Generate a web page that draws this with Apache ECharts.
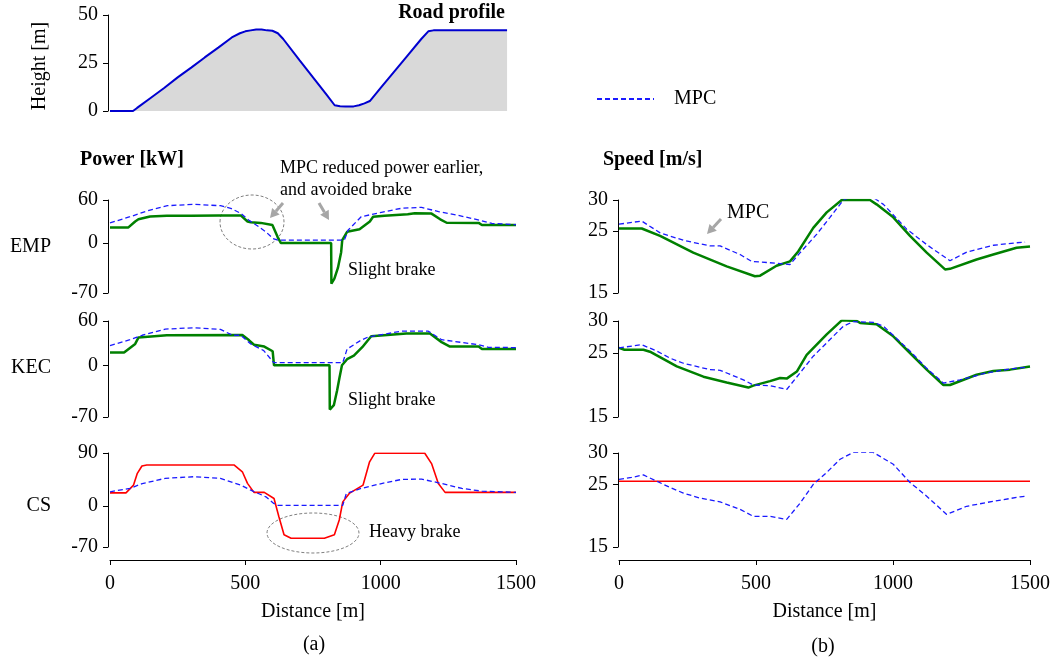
<!DOCTYPE html>
<html>
<head>
<meta charset="utf-8">
<script src="https://cdn.jsdelivr.net/npm/echarts@6/dist/echarts.min.js"></script>
<style>
html, body { margin: 0; padding: 0; background: #fff; }
#main { width: 1057px; height: 662px; }
</style>
</head>
<body>
<div id="main"></div>
<script>
// road profile
var roadDist   = [0, 85, 100, 150, 200, 250, 300, 350, 400, 450, 480, 500, 520, 540, 560, 580, 600, 620, 640, 700, 750, 800, 830, 850, 870, 900, 920, 940, 960, 1000, 1050, 1100, 1150, 1176, 1195, 1300, 1400, 1467];
var roadHeight = [0, 0, 1.6, 6.8, 12, 17.5, 22.6, 27.9, 33, 38.3, 40.5, 41.5, 42, 42.5, 42.5, 42, 41.8, 40.5, 37.5, 26.5, 17.5, 8.5, 3, 2.5, 2.4, 2.4, 3, 4, 5.2, 12, 20.5, 29, 37.5, 41.5, 42, 42, 42, 42];

// power [kW] - EMP row
var pEmpX    = [0, 68, 93, 105, 148, 210, 300, 400, 483, 508, 520, 557, 600, 606, 619, 631, 817, 818, 829, 842, 854, 858, 876, 922, 960, 972, 1014, 1100, 1126, 1188, 1220, 1244, 1362, 1374, 1500];
var pEmpY    = [21.7, 21.7, 30, 33, 37, 38, 38, 38.5, 38.5, 30, 29, 28, 25, 22.5, 8.5, 0, 0, -57, -50, -35, -13, 4, 15.5, 19, 30, 36.5, 38, 40, 41.4, 41, 33, 28.2, 28, 25, 25];
var pEmpMpcX = [0, 74, 148, 212, 308, 408, 446, 483, 512, 550, 576, 602, 620, 866, 880, 928, 1003, 1077, 1151, 1214, 1281, 1374, 1411, 1500];
var pEmpMpcY = [28, 36.6, 46, 52, 54, 52, 48.4, 41.4, 32, 22.5, 15.5, 6.2, 4, 4, 18, 36.6, 42.8, 48.4, 49.8, 43.7, 39, 31, 27.3, 25.5];

// power [kW] - KEC row
var pKecX    = [0, 52, 93, 105, 210, 489, 514, 532, 570, 601, 606, 811, 812, 827, 839, 848, 857, 876, 901, 932, 965, 1095, 1182, 1225, 1256, 1362, 1374, 1500];
var pKecY    = [17.5, 17.5, 29, 37.5, 40.7, 41, 33.8, 27.8, 25.4, 19, 0, 0, -60, -54, -34, -16.5, 0, 8.3, 13, 24.5, 39.3, 43, 43, 31.4, 25.4, 25.4, 22.2, 22.2];
var pKecMpcX = [0, 74, 119, 204, 308, 408, 453, 483, 520, 568, 605, 860, 876, 922, 953, 1077, 1176, 1225, 1362, 1398, 1500];
var pKecMpcY = [26.8, 34.7, 40.7, 49, 50.8, 48.6, 40.7, 40.7, 29, 19.9, 3.6, 3.6, 22, 32.8, 38.3, 46.2, 46.2, 34.7, 27.8, 24.4, 24];

// power [kW] - CS row
var pCsX    = [0, 59, 87, 101, 118, 136, 458, 489, 508, 532, 570, 606, 624, 643, 669, 792, 829, 847, 860, 884, 935, 959, 978, 1163, 1188, 1213, 1238, 1500];
var pCsY    = [22.2, 22.2, 35.4, 55.4, 67.9, 69.6, 69.6, 58, 38.3, 23, 23, 12.6, -18.5, -49.3, -55, -55, -49.3, -24, 6.8, 21.2, 35.4, 75, 89.5, 89.5, 72, 38, 23, 23];
var pCsMpcX = [0, 74, 119, 204, 308, 408, 483, 520, 576, 605, 620, 860, 873, 928, 1003, 1077, 1151, 1214, 1300, 1374, 1500];
var pCsMpcY = [24, 29.7, 38, 46.8, 49.6, 46.8, 35.4, 26.8, 15.4, 4.1, 1, 1, 21, 29.7, 38, 45, 45.6, 39.3, 29.7, 25, 23];

// speed [m/s] - EMP row
var sEmpX    = [0, 83, 150, 271, 393, 496, 515, 575, 624, 654, 709, 758, 813, 916, 940, 1001, 1062, 1123, 1190, 1208, 1305, 1366, 1451, 1500];
var sEmpY    = [25.4, 25.4, 24.2, 21.5, 19.3, 17.7, 17.8, 19.4, 20.1, 21.7, 25.5, 28, 30, 30, 29.3, 27.2, 24.2, 21.5, 18.8, 18.9, 20.4, 21.2, 22.3, 22.5];
var sEmpMpcX = [0, 83, 150, 235, 332, 369, 442, 484, 575, 624, 661, 722, 770, 819, 843, 928, 965, 1050, 1123, 1208, 1269, 1366, 1451, 1482];
var sEmpMpcY = [26.1, 26.6, 24.7, 23.5, 22.6, 22.6, 21.2, 20.1, 19.8, 19.6, 21.5, 24.5, 27.2, 30, 30.4, 30.4, 29.3, 25.3, 22.8, 20.2, 21.6, 22.7, 23.1, 23.2];

// speed [m/s] - KEC row
var sKecX    = [0, 20, 89, 113, 211, 308, 393, 472, 490, 551, 588, 612, 649, 685, 758, 813, 868, 880, 940, 1001, 1062, 1123, 1184, 1208, 1305, 1366, 1427, 1500];
var sKecY    = [25.8, 25.5, 25.5, 25.2, 22.9, 21.3, 20.4, 19.6, 19.9, 20.6, 21.1, 21, 22.1, 24.7, 27.9, 30.1, 30, 29.7, 29.5, 27.6, 25, 22.4, 20, 20, 21.6, 22.2, 22.4, 22.9];
var sKecMpcX = [0, 83, 138, 186, 235, 332, 369, 454, 490, 551, 612, 661, 709, 770, 819, 855, 928, 965, 1062, 1123, 1184, 1245, 1342, 1427, 1488];
var sKecMpcY = [25.8, 26.3, 25.3, 24.2, 23.4, 22.4, 22.3, 20.8, 20, 19.9, 19.3, 21.9, 24.5, 27.1, 29.2, 29.9, 29.8, 29.2, 25.3, 22.6, 20.3, 20.8, 21.9, 22.5, 22.8];

// speed [m/s] - CS row
var sCsX    = [0, 1500];
var sCsY    = [25.5, 25.5];
var sCsMpcX = [0, 46, 89, 138, 186, 235, 296, 369, 442, 490, 551, 612, 661, 709, 758, 807, 855, 928, 1001, 1062, 1123, 1196, 1269, 1366, 1464, 1482];
var sCsMpcY = [25.8, 26.1, 26.5, 25.5, 24.5, 23.6, 22.8, 22.2, 21, 19.9, 19.9, 19.4, 22, 25, 26.9, 29, 30.1, 30.1, 28.2, 25.3, 23.1, 20.2, 21.5, 22.3, 23, 23.1];

// tick values
var heightTicks = [0, 25, 50];
var powerTicks = [-70, 0, 60];
var powerCsTicks = [-70, 0, 90];
var speedTicks = [15, 25, 30];

var FONT = 'Liberation Serif';
var GREEN = '#008000', BLUE = '#1a1aff', RED = '#ff0000', GRAY = '#a6a6a6';

function zip(xs, ys) {
    return xs.map(function (x, i) { return [x, ys[i]]; });
}

var myChart = echarts.init(document.getElementById('main'));

// grid layout: 0 road, 1-3 power, 4-6 speed
var L = {left: 110, right: 541}, R = {left: 619, right: 27};
var rows = [{top: 200, height: 93}, {top: 321, height: 96}, {top: 453, height: 94}];
var grids = [{left: L.left, right: L.right, top: 15, height: 96}];
rows.forEach(function (r) { grids.push({left: L.left, right: L.right, top: r.top, height: r.height}); });
rows.forEach(function (r) { grids.push({left: R.left, right: R.right, top: r.top, height: r.height}); });

function xAx(i, show) {
    return {
        type: 'value', gridIndex: i, min: 0, max: 1500, interval: 500, show: show,
        offset: 13,
        axisLine: {onZero: false, lineStyle: {color: '#000', width: 1}},
        axisTick: {show: true, inside: false, length: 5, lineStyle: {color: '#000'}},
        axisLabel: {
            color: '#000', fontFamily: FONT, fontSize: 20, margin: 14,
            formatter: function (v) { return String(v); }
        },
        splitLine: {show: false},
        name: 'Distance [m]', nameLocation: 'middle', nameGap: 42,
        nameTextStyle: {color: '#000', fontFamily: FONT, fontSize: 20}
    };
}
function yAx(i, min, max, ticks, off) {
    return {
        type: 'value', gridIndex: i, min: min, max: max, offset: off,
        axisLine: {show: true, onZero: false, lineStyle: {color: '#000', width: 1}},
        axisTick: {show: true, length: 5, customValues: ticks, lineStyle: {color: '#000'}},
        axisLabel: {customValues: ticks, color: '#000', fontFamily: FONT, fontSize: 20, margin: 10},
        splitLine: {show: false}
    };
}

var xAxes = [], yAxes = [];
for (var i = 0; i < 7; i++) xAxes.push(xAx(i, i === 3 || i === 6));
yAxes.push(yAx(0, 0, 50, heightTicks, 2));
yAxes.push(yAx(1, -70, 60, powerTicks, 2));
yAxes.push(yAx(2, -70, 60, powerTicks, 2));
yAxes.push(yAx(3, -70, 90, powerCsTicks, 2));
yAxes.push(yAx(4, 15, 30, speedTicks, 1));
yAxes.push(yAx(5, 15, 30, speedTicks, 1));
yAxes.push(yAx(6, 15, 30, speedTicks, 1));

function line(name, idx, data, color, width, dashed) {
    return {
        name: name, type: 'line', xAxisIndex: idx, yAxisIndex: idx,
        data: data, symbol: 'none', animation: false, silent: true,
        lineStyle: {color: color, width: width, type: dashed ? [5, 3] : 'solid'},
        itemStyle: {color: color}
    };
}

var series = [
    {
        name: 'road', type: 'line', xAxisIndex: 0, yAxisIndex: 0,
        data: zip(roadDist, roadHeight), symbol: 'none', animation: false,
        lineStyle: {color: '#0000d0', width: 2},
        areaStyle: {color: '#d9d9d9', opacity: 1}
    },
    line('EMP', 1, zip(pEmpX, pEmpY), GREEN, 2.5, false),
    line('MPC', 1, zip(pEmpMpcX, pEmpMpcY), BLUE, 1.3, true),
    line('KEC', 2, zip(pKecX, pKecY), GREEN, 2.5, false),
    line('MPC', 2, zip(pKecMpcX, pKecMpcY), BLUE, 1.3, true),
    line('CS', 3, zip(pCsX, pCsY), RED, 1.6, false),
    line('MPC', 3, zip(pCsMpcX, pCsMpcY), BLUE, 1.3, true),
    line('EMP', 4, zip(sEmpX, sEmpY), GREEN, 2.5, false),
    line('MPC', 4, zip(sEmpMpcX, sEmpMpcY), BLUE, 1.3, true),
    line('KEC', 5, zip(sKecX, sKecY), GREEN, 2.5, false),
    line('MPC', 5, zip(sKecMpcX, sKecMpcY), BLUE, 1.3, true),
    line('CS', 6, zip(sCsX, sCsY), RED, 1.6, false),
    line('MPC', 6, zip(sCsMpcX, sCsMpcY), BLUE, 1.3, true)
];

function txt(x, y, s, opt) {
    opt = opt || {};
    return {
        type: 'text', x: x, y: y, rotation: opt.rot || 0, silent: true,
        style: {
            text: s, fill: '#000', fontFamily: FONT,
            fontSize: opt.size || 20, fontWeight: opt.bold ? 'bold' : 'normal',
            align: opt.align || 'left', verticalAlign: 'middle'
        }
    };
}
function ring(cx, cy, rx, ry) {
    return {
        type: 'ellipse', shape: {cx: cx, cy: cy, rx: rx, ry: ry}, silent: true,
        style: {fill: null, stroke: '#808080', lineWidth: 1, lineDash: [3, 2]}
    };
}
function arrow(x1, y1, x2, y2) {
    var a = Math.atan2(y2 - y1, x2 - x1), h = 9, w = 5;
    var bx = x2 - h * Math.cos(a), by = y2 - h * Math.sin(a);
    return [
        {type: 'line', silent: true, shape: {x1: x1, y1: y1, x2: bx, y2: by}, style: {stroke: GRAY, lineWidth: 3}},
        {type: 'polygon', silent: true, shape: {points: [[x2, y2],
            [bx - w * Math.sin(a), by + w * Math.cos(a)],
            [bx + w * Math.sin(a), by - w * Math.cos(a)]]}, style: {fill: GRAY}}
    ];
}

var graphics = [
    txt(505, 13, 'Road profile', {bold: true, align: 'right'}),
    txt(40, 66, 'Height [m]', {rot: Math.PI / 2, align: 'center'}),
    txt(80, 160, 'Power [kW]', {bold: true}),
    txt(603, 160, 'Speed [m/s]', {bold: true}),
    txt(51, 247, 'EMP', {align: 'right'}),
    txt(51, 368, 'KEC', {align: 'right'}),
    txt(51, 506, 'CS', {align: 'right'}),
    txt(280, 168, 'MPC reduced power earlier,', {size: 18}),
    txt(280, 190, 'and avoided brake', {size: 18}),
    txt(348, 270, 'Slight brake', {size: 18}),
    txt(348, 400, 'Slight brake', {size: 18}),
    txt(369, 532, 'Heavy brake', {size: 18}),
    txt(727, 213, 'MPC', {size: 20}),
    txt(314, 645, '(a)', {align: 'center'}),
    txt(823, 647, '(b)', {align: 'center'}),
    ring(252, 222, 32, 27),
    ring(313, 533, 46, 20)
].concat(arrow(283, 203, 270, 218), arrow(319, 203, 329, 220), arrow(721, 219, 707, 234));

var option = {
    backgroundColor: '#fff',
    animation: false,
    legend: {
        data: ['MPC'], left: 591, top: 84, selectedMode: false,
        itemWidth: 57, itemHeight: 14,
        itemStyle: {opacity: 0},
        textStyle: {color: '#000', fontFamily: FONT, fontSize: 20, padding: [0, 0, 0, 15]}
    },
    grid: grids,
    xAxis: xAxes,
    yAxis: yAxes,
    series: series,
    graphic: graphics
};
myChart.setOption(option);
</script>
</body>
</html>
